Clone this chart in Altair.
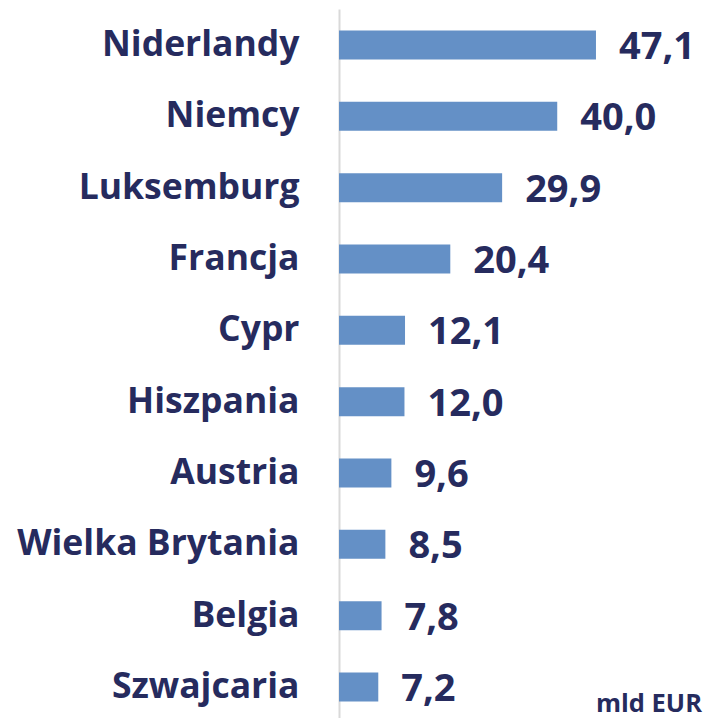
import altair as alt
import pandas as pd

countries = ["Niderlandy", "Niemcy", "Luksemburg", "Francja", "Cypr", "Hiszpania",
             "Austria", "Wielka Brytania", "Belgia", "Szwajcaria"]
values = [47.1, 40.0, 29.9, 20.4, 12.1, 12.0, 9.6, 8.5, 7.8, 7.2]
labels = [f"{v:.1f}".replace(".", ",") for v in values]
unit_label = "mld EUR"

df = pd.DataFrame({"country": countries, "value": values, "label": labels})

NAVY = "#262b5e"
BLUE = "#6490c6"
FONT = "Open Sans"

y = alt.Y("country:N", sort=countries,
          scale=alt.Scale(paddingInner=0.59, paddingOuter=0.3),
          axis=alt.Axis(title=None, ticks=False, labelFontSize=35.5, labelFont=FONT,
                        labelFontWeight="bold", labelColor=NAVY, labelPadding=40,
                        domainColor="#d9d9d9", domainWidth=2, labelLimit=400))
x = alt.X("value:Q", scale=alt.Scale(domain=[0, 68]), axis=None)

bars = alt.Chart(df).mark_bar(color=BLUE, size=29).encode(x=x, y=y)
texts = alt.Chart(df).mark_text(align="left", baseline="middle", dx=23, dy=3,
                                fontSize=38, font=FONT, fontWeight="bold",
                                color=NAVY).encode(x=x, y=y, text="label:N")
unit = alt.Chart(pd.DataFrame({"t": [unit_label]})).mark_text(
    align="left", baseline="bottom", fontSize=25.5, font=FONT, fontWeight="bold",
    color=NAVY).encode(x=alt.value(257), y=alt.value(708), text="t:N")

chart = (bars + texts + unit).properties(
    width=371, height=714,
    padding={"left": 339, "top": 9, "right": 0, "bottom": 0},
    autosize=alt.AutoSizeParams(type="none"),
).configure_view(stroke=None)

chart.save("out.html", embed_options={"renderer": "svg", "actions": False})
